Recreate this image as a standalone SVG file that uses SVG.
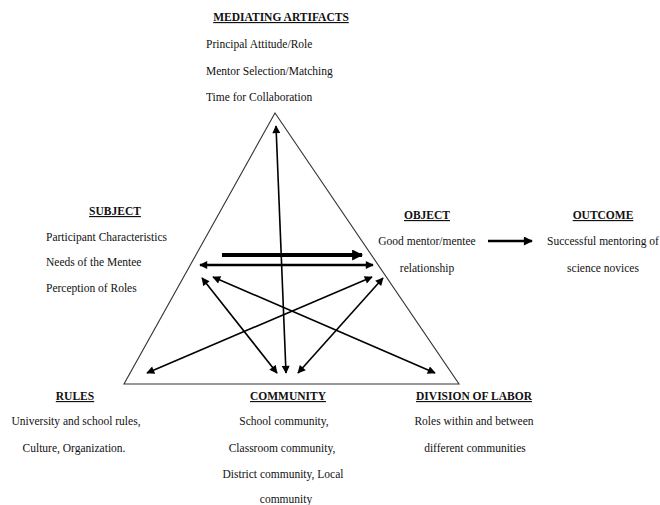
<svg xmlns="http://www.w3.org/2000/svg" width="660" height="505" viewBox="0 0 660 505">
<style>
.h{font-weight:bold;text-decoration:underline}
.c{text-anchor:middle}
.tri{fill:none;stroke:#333;stroke-width:1.1}
.a{fill:none;stroke:#000;stroke-width:1.6;marker-end:url(#ah);marker-start:url(#ah)}
</style>
<defs>
<marker id="ah" viewBox="0 0 10 10" refX="9" refY="5" markerWidth="9" markerHeight="8" markerUnits="userSpaceOnUse" orient="auto-start-reverse"><path d="M0,0 L10,5 L0,10 z" fill="#000"/></marker>
<marker id="ahb" viewBox="0 0 10 10" refX="9" refY="5" markerWidth="13" markerHeight="11" markerUnits="userSpaceOnUse" orient="auto"><path d="M0,0 L10,5 L0,10 z" fill="#000"/></marker>
<marker id="ahm" viewBox="0 0 10 10" refX="9" refY="5" markerWidth="11" markerHeight="9" markerUnits="userSpaceOnUse" orient="auto"><path d="M0,0 L10,5 L0,10 z" fill="#000"/></marker>
</defs>
<rect width="660" height="505" fill="#fff"/>
<g id="triangle"><polygon class="tri" points="275,113 124,384 459,384"/></g>
<g id="connectors">
<line class="a" x1="276" y1="126" x2="286" y2="373"/>
<line x1="222" y1="255" x2="362" y2="255" stroke="#000" stroke-width="4" marker-end="url(#ahb)"/>
<line class="a" x1="200" y1="265" x2="373" y2="265" style="stroke-width:2.4"/>
<line class="a" x1="202" y1="278" x2="277" y2="373"/>
<line class="a" x1="213" y1="277" x2="435" y2="373"/>
<line class="a" x1="372" y1="277" x2="147" y2="373"/>
<line class="a" x1="383" y1="278" x2="298" y2="373"/>
<line x1="488" y1="241" x2="532" y2="241" stroke="#000" stroke-width="2.4" marker-end="url(#ahm)"/>
</g>
<g font-family="Liberation Serif, Times New Roman, serif" font-size="11.5" fill="#111">
<g id="mediating-artifacts">
<text class="h c" x="281" y="21">MEDIATING ARTIFACTS</text>
<text x="206" y="48">Principal Attitude/Role</text>
<text x="206" y="75">Mentor Selection/Matching</text>
<text x="206" y="101">Time for Collaboration</text>
</g>
<g id="subject">
<text class="h c" x="115" y="215">SUBJECT</text>
<text x="46" y="241">Participant Characteristics</text>
<text x="46" y="266">Needs of the Mentee</text>
<text x="46" y="292">Perception of Roles</text>
</g>
<g id="object">
<text class="h c" x="427" y="219">OBJECT</text>
<text class="c" x="427" y="245">Good mentor/mentee</text>
<text class="c" x="427" y="272">relationship</text>
</g>
<g id="outcome">
<text class="h c" x="603" y="219">OUTCOME</text>
<text class="c" x="603" y="245">Successful mentoring of</text>
<text class="c" x="603" y="272">science novices</text>
</g>
<g id="rules">
<text class="h c" x="75" y="400">RULES</text>
<text class="c" x="76" y="425">University and school rules,</text>
<text class="c" x="74" y="452">Culture, Organization.</text>
</g>
<g id="community">
<text class="h c" x="288" y="400">COMMUNITY</text>
<text class="c" x="284" y="425">School community,</text>
<text class="c" x="282" y="452">Classroom community,</text>
<text class="c" x="283" y="478">District community, Local</text>
<text class="c" x="286" y="503">community</text>
</g>
<g id="division-of-labor">
<text class="h c" x="474" y="400">DIVISION OF LABOR</text>
<text class="c" x="474" y="425">Roles within and between</text>
<text class="c" x="475" y="452">different communities</text>
</g>
</g>
</svg>
